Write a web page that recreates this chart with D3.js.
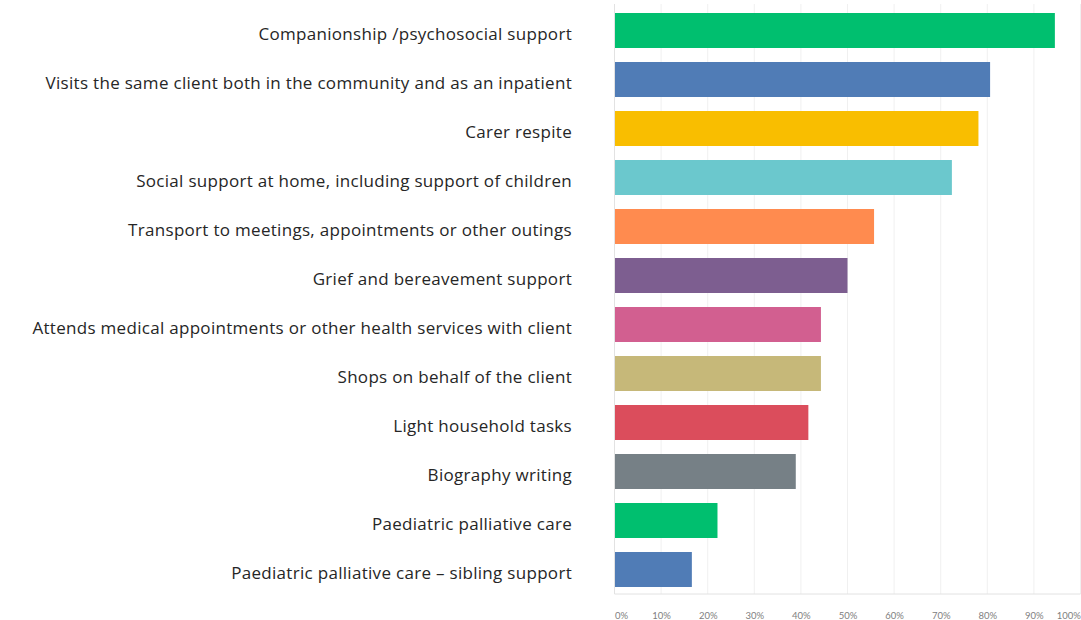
<!DOCTYPE html>
<html><head><meta charset="utf-8">
<script src="https://cdn.jsdelivr.net/npm/d3@7"></script>
<style>
html,body{margin:0;padding:0;background:#fff;}
svg{display:block;}
</style></head>
<body>
<svg id="chart" width="1081" height="620"></svg>
<script>
const categories = [
  "Companionship /psychosocial support",
  "Visits the same client both in the community and as an inpatient",
  "Carer respite",
  "Social support at home, including support of children",
  "Transport to meetings, appointments or other outings",
  "Grief and bereavement support",
  "Attends medical  appointments or other health services with client",
  "Shops on behalf of the client",
  "Light household tasks",
  "Biography writing",
  "Paediatric palliative care",
  "Paediatric palliative care \u2013 sibling support"
];
const values = [94.5, 80.6, 78.1, 72.4, 55.7, 50.0, 44.3, 44.3, 41.6, 38.9, 22.1, 16.6];
const colors = ["#00BF6F","#507CB6","#F9BE00","#6BC8CD","#FF8B4F","#7D5E90","#D25F90","#C6B879","#DB4D5C","#768086","#00BF6F","#507CB6"];
const ticks = [0,10,20,30,40,50,60,70,80,90,100];

const svg = d3.select("#chart");
const mLeft = 614.5, mRight = 1080.5, mTop = 6, mBottom = 594;

const x = d3.scaleLinear().domain([0,100]).range([mLeft, mRight]);
const y = d3.scaleBand().domain(categories).range([mTop, mBottom]).paddingInner(0.286).paddingOuter(0.143);

// gridlines
svg.append("g").selectAll("line").data(ticks.slice(1)).join("line")
  .attr("x1", d=>x(d)).attr("x2", d=>x(d))
  .attr("y1", 4).attr("y2", mBottom)
  .attr("stroke", "#f0f0f0").attr("stroke-width", 1);

// frame
svg.append("line").attr("x1", mLeft).attr("x2", mLeft).attr("y1", 4).attr("y2", mBottom)
  .attr("stroke", "#e2e2e2");
svg.append("line").attr("x1", mLeft).attr("x2", mRight).attr("y1", mBottom).attr("y2", mBottom)
  .attr("stroke", "#e2e2e2");

// bars
svg.append("g").selectAll("rect").data(categories).join("rect")
  .attr("x", x(0)+0.5)
  .attr("y", d=>y(d))
  .attr("width", (d,i)=>x(values[i]) - x(0) - 0.5)
  .attr("height", y.bandwidth())
  .attr("fill", (d,i)=>colors[i]);

// category labels
svg.append("g").selectAll("text").data(categories).join("text")
  .attr("x", 572)
  .attr("y", d=>y(d) + y.bandwidth()/2 + 5)
  .attr("text-anchor", "end")
  .attr("dominant-baseline", "middle")
  .attr("font-family", "'Open Sans', sans-serif")
  .attr("font-size", 17)
  .attr("letter-spacing", 0.3)
  .attr("fill", "#262626")
  .text(d=>d);

// x tick labels
const xAxis = d3.axisBottom(x).tickValues(ticks).tickFormat(d=>d+"%").tickSize(0).tickPadding(0);
const ax = svg.append("g").attr("transform", `translate(0,${mBottom+18})`).call(xAxis);
ax.select(".domain").remove();
ax.selectAll("text")
  .attr("font-family", "Lato, 'Open Sans', sans-serif")
  .attr("font-size", 9.5)
  .attr("fill", "#808080")
  .attr("text-anchor", (d)=> d===0 ? "start" : (d===100 ? "end" : "middle"));
</script>
</body></html>
